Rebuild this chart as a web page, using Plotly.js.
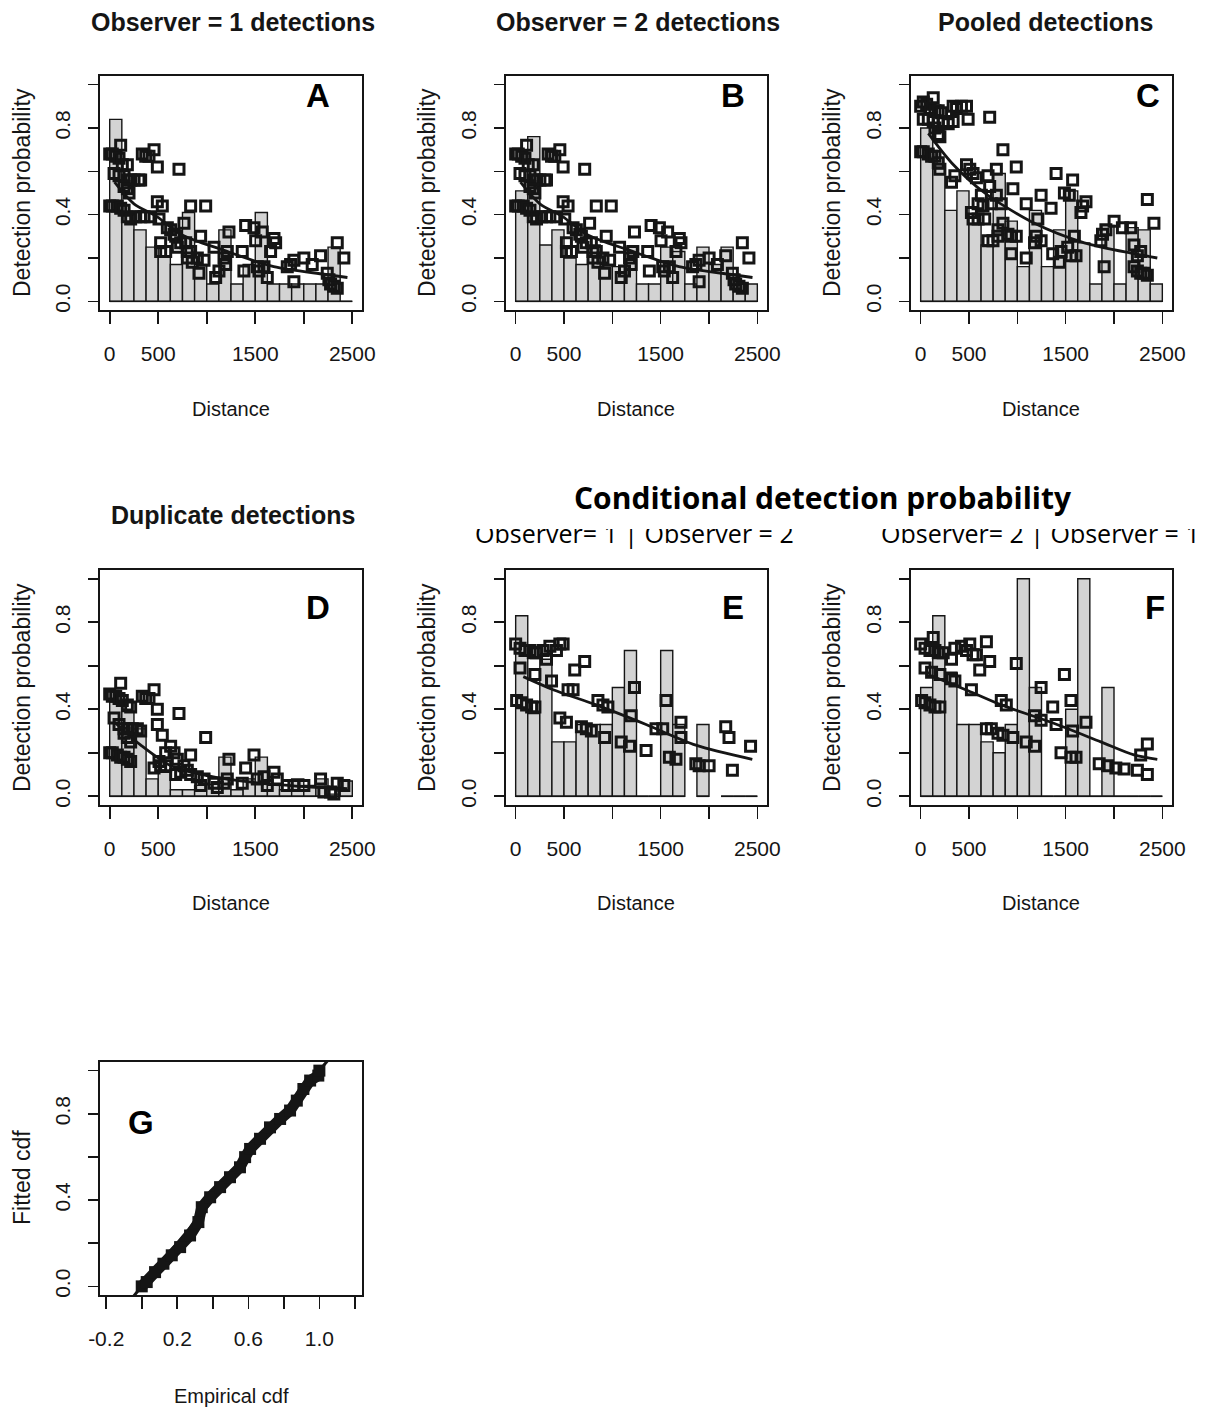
<!DOCTYPE html>
<html>
<head>
<meta charset="utf-8">
<script src="https://cdn.plot.ly/plotly-3.0.1.min.js"></script>
<style>
html,body{margin:0;padding:0;background:#fff;}
#chart{width:1207px;height:1410px;}
</style>
</head>
<body>
<div id="chart"></div>
<script>
// ---------------- DATA ----------------
const binEdges = [0,125,250,375,500,625,750,875,1000,1125,1250,1375,1500,1625,1750,1875,2000,2125,2250,2375,2500];

// histogram heights (null = empty bin drawn without baseline)
const histA = [0.84,0.40,0.33,0.25,0.21,0.17,0.41,0.17,0.08,0.33,0.08,0.17,0.41,0.08,0.08,0.08,0.08,0.08,0.25,0];
const histB = [0.51,0.76,0.26,0.33,0.20,0.17,0.26,0.17,0.16,0.25,0.08,0.08,0.25,0.23,0.08,0.25,0.17,0.25,0.08,0.08];
const histC = [0.80,0.61,0.42,0.51,0.36,0.26,0.59,0.37,0.16,0.42,0.16,0.33,0.51,0.27,0.08,0.35,0.08,0.34,0.33,0.08];
const histD = [0.44,0.39,0.31,0.08,0.11,0.03,0.03,0.05,0.055,0.18,0.03,0.08,0.18,0.05,0.03,0.08,0.05,0.08,0.01,0.07];
const histE = [0.83,0.38,0.63,0.25,0.25,0.33,0.33,0.33,0.50,0.67,0,0,0.67,0.33,null,0.33,null,0,0,0];
const histF = [0.50,0.83,0.57,0.33,0.33,0.25,0.20,0.33,1.00,0.50,0,0,0.40,1.00,0,0.50,0,0,0,0];

// observation points: distance and estimated detection probability
const distA = [0,27,62,113,96,130,182,45,96,148,182,216,251,302,319,148,182,199,
  0,27,79,113,148,182,216,268,319,354,422,336,371,405,457,491,714,491,542,525,525,577,
  508,594,628,663,765,680,697,731,783,800,800,834,834,989,851,903,937,972,920,1075,
  1092,1126,1178,1195,1229,1212,1366,1383,1401,1487,1504,1572,1521,1538,1590,1624,1658,1710,
  1693,1830,1864,1898,1898,2001,2087,2173,2242,2259,2276,2310,2345,2345,2413];
const probA = [0.68,0.68,0.67,0.72,0.66,0.63,0.63,0.59,0.58,0.58,0.56,0.56,0.56,0.56,0.56,0.53,0.52,0.50,
  0.44,0.44,0.44,0.43,0.42,0.39,0.38,0.39,0.39,0.39,0.39,0.68,0.67,0.67,0.70,0.62,0.61,0.46,0.44,0.27,0.23,0.23,
  0.38,0.34,0.33,0.31,0.36,0.30,0.25,0.27,0.27,0.23,0.20,0.23,0.44,0.44,0.18,0.20,0.30,0.19,0.13,0.25,
  0.11,0.14,0.20,0.17,0.32,0.23,0.23,0.14,0.35,0.34,0.28,0.32,0.16,0.14,0.16,0.11,0.23,0.27,
  0.29,0.16,0.17,0.19,0.09,0.20,0.17,0.21,0.13,0.10,0.08,0.07,0.06,0.27,0.20];
const distB = distA.slice();
const probB = [0.68,0.68,0.67,0.72,0.66,0.63,0.63,0.59,0.58,0.58,0.56,0.56,0.56,0.56,0.56,0.53,0.52,0.50,
  0.44,0.44,0.44,0.43,0.42,0.39,0.38,0.39,0.39,0.39,0.39,0.68,0.67,0.67,0.70,0.62,0.61,0.46,0.44,0.27,0.23,0.23,
  0.38,0.34,0.33,0.31,0.36,0.30,0.25,0.27,0.27,0.23,0.20,0.23,0.44,0.44,0.18,0.20,0.30,0.19,0.13,0.25,
  0.11,0.14,0.20,0.17,0.32,0.23,0.23,0.14,0.35,0.34,0.28,0.32,0.16,0.14,0.16,0.11,0.23,0.27,
  0.29,0.16,0.17,0.19,0.09,0.20,0.17,0.21,0.13,0.10,0.08,0.07,0.06,0.27,0.20];
const distC = [0,27,62,130,96,148,182,216,27,79,130,182,233,285,336,148,182,199,
  0,27,79,113,148,182,199,336,371,422,474,491,714,851,474,508,542,577,354,319,
  628,594,645,697,714,783,731,783,663,525,542,594,834,851,989,954,800,903,937,989,
  697,748,800,937,1092,1092,1178,1212,1195,1246,1246,1349,1401,1572,1487,1538,
  1366,1435,1452,1521,1590,1555,1607,1658,1675,1710,1864,1881,1916,1898,2001,2087,2173,
  2345,2413,2207,2207,2242,2276,2310,2345,2242,2276];
const probC = [0.90,0.92,0.91,0.94,0.89,0.88,0.88,0.87,0.84,0.84,0.83,0.83,0.83,0.82,0.83,0.80,0.77,0.76,
  0.69,0.69,0.68,0.67,0.67,0.64,0.61,0.90,0.89,0.90,0.90,0.84,0.85,0.70,0.63,0.61,0.59,0.57,0.58,0.55,
  0.49,0.45,0.44,0.58,0.53,0.61,0.45,0.49,0.38,0.41,0.38,0.38,0.45,0.36,0.62,0.52,0.33,0.31,0.30,0.30,
  0.28,0.28,0.30,0.22,0.45,0.20,0.27,0.38,0.30,0.49,0.28,0.43,0.59,0.56,0.50,0.49,
  0.22,0.18,0.23,0.25,0.30,0.21,0.21,0.41,0.44,0.46,0.28,0.31,0.33,0.16,0.37,0.34,0.34,
  0.47,0.36,0.26,0.16,0.14,0.13,0.13,0.12,0.21,0.23];
const distD = [0,27,62,113,96,130,182,216,45,96,148,182,233,285,319,148,182,216,
  0,27,79,113,148,182,216,336,371,405,457,491,714,491,542,525,508,457,577,577,
  628,663,697,765,834,989,680,731,800,834,903,937,972,1075,1109,1178,1229,1212,
  1366,1401,1487,1521,1590,1624,1693,1727,1830,1898,2001,2173,2207,2276,2345,2413,2310];
const probD = [0.47,0.46,0.46,0.52,0.45,0.44,0.42,0.41,0.36,0.33,0.31,0.31,0.31,0.31,0.30,0.29,0.27,0.25,
  0.20,0.20,0.19,0.18,0.18,0.17,0.16,0.46,0.45,0.45,0.49,0.40,0.38,0.33,0.28,0.14,0.16,0.13,0.14,0.20,
  0.23,0.20,0.17,0.14,0.19,0.27,0.10,0.11,0.12,0.10,0.09,0.05,0.08,0.06,0.04,0.06,0.17,0.08,
  0.06,0.13,0.19,0.08,0.09,0.05,0.11,0.08,0.05,0.05,0.05,0.08,0.02,0.02,0.06,0.05,0.01];
const distE = [0,45,96,148,182,216,285,319,354,422,457,491,45,199,371,542,594,611,714,851,903,954,
  10,62,113,165,199,457,525,680,731,783,920,1092,1178,1195,1229,1349,1452,1521,1555,1590,1658,1710,1710,
  1864,1898,2001,2173,2207,2242,2430];
const probE = [0.70,0.68,0.67,0.67,0.66,0.66,0.67,0.63,0.69,0.67,0.70,0.70,0.59,0.56,0.53,0.49,0.49,0.58,0.62,0.44,0.42,0.41,
  0.44,0.43,0.42,0.41,0.41,0.36,0.34,0.32,0.31,0.30,0.27,0.25,0.23,0.37,0.50,0.21,0.31,0.31,0.44,0.18,0.17,0.34,0.27,
  0.15,0.14,0.14,0.32,0.27,0.12,0.23];
const distF = [0,45,96,130,148,182,233,319,354,422,474,508,542,577,611,680,714,989,
  45,113,199,319,354,525,834,886,10,45,96,148,199,680,731,800,851,954,
  1092,1178,1178,1246,1246,1366,1401,1487,1555,1572,1452,1555,1607,1710,
  1847,1933,2019,2104,2242,2345,2345,2276];
const probF = [0.70,0.68,0.67,0.73,0.67,0.66,0.66,0.63,0.68,0.69,0.67,0.70,0.65,0.65,0.58,0.71,0.62,0.61,
  0.59,0.57,0.56,0.54,0.53,0.49,0.44,0.42,0.44,0.43,0.42,0.41,0.41,0.31,0.31,0.29,0.28,0.27,
  0.25,0.23,0.37,0.35,0.50,0.41,0.33,0.56,0.44,0.30,0.20,0.18,0.18,0.34,
  0.15,0.14,0.13,0.125,0.12,0.10,0.24,0.19];

// fitted average detection function
const fitDistA = [50,250,490,730,1180,1690,2210,2450];
const fitProbA = [0.55,0.45,0.39,0.31,0.235,0.16,0.125,0.11];
const fitDistB = [50,250,490,730,1180,1690,2210,2450];
const fitProbB = [0.55,0.45,0.39,0.31,0.235,0.16,0.125,0.11];
const fitDistC = [79,319,663,1178,1693,2207,2448];
const fitProbC = [0.775,0.64,0.50,0.36,0.27,0.22,0.20];
const fitDistD = [50,150,320,630,1000,1500,2000,2450];
const fitProbD = [0.34,0.30,0.235,0.14,0.095,0.063,0.045,0.035];
const fitDistE = [79,388,834,1349,1864,2448];
const fitProbE = [0.55,0.49,0.42,0.33,0.235,0.17];
const fitDistF = [79,491,834,1349,1864,2207,2448];
const fitProbF = [0.56,0.485,0.42,0.34,0.25,0.19,0.17];

// Q-Q (cdf) plot
const empiricalCdf = [0.0,0.028,0.075,0.122,0.169,0.216,0.272,0.319,0.338,0.385,0.441,0.497,0.553,0.582,0.61,0.666,0.722,0.779,0.835,0.873,0.91,0.948,0.994,1.0];
const fittedCdf    = [0.0,0.02,0.066,0.105,0.144,0.182,0.236,0.298,0.367,0.413,0.46,0.506,0.552,0.599,0.637,0.684,0.737,0.776,0.815,0.861,0.915,0.954,0.977,1.0];
const refLine = [-0.3,1.3];

// ticks and labels
const distTicks = [0,500,1000,1500,2000,2500];
const distTickText = ['0','500','','1500','','2500'];
const probTicks = [0,0.2,0.4,0.6,0.8,1.0];
const probTickText = ['0.0','','0.4','','0.8',''];
const cdfTicks = [-0.2,0,0.2,0.4,0.6,0.8,1.0,1.2];
const cdfTickText = ['-0.2','','0.2','','0.6','','1.0',''];
const panelTitles = ['Observer = 1 detections','Observer = 2 detections','Pooled detections','Duplicate detections'];
const condTitle = 'Conditional detection probability';
const condSubtitles = ['Observer= 1 | Observer = 2','Observer= 2 | Observer = 1'];
const panelLetters = ['A','B','C','D','E','F','G'];
const xTitle = 'Distance', yTitle = 'Detection probability';
const cdfXTitle = 'Empirical cdf', cdfYTitle = 'Fitted cdf';

// ---------------- LAYOUT ----------------
const W = 1207, H = 1410;
const px = v => v / W, py = v => 1 - v / H;
const INK = '#151515';
const sans = '"Liberation Sans",Arial,Helvetica,sans-serif';
const openSans = '"Open Sans","Noto Sans",sans-serif';
const tickFont = {family: sans, size: 21, color: INK};

// pixel boxes [left,right,top,bottom]
const boxes = [
  [100,362,76,310],[506,767,76,310],[911,1172,76,310],
  [100,362,570,805],[506,767,570,805],[911,1172,570,805],
  [100,362,1062,1295]
];
const hists = [histA,histB,histC,histD,histE,histF];
const dists = [distA,distB,distC,distD,distE,distF];
const probs = [probA,probB,probC,probD,probE,probF];
const fitX = [fitDistA,fitDistB,fitDistC,fitDistD,fitDistE,fitDistF];
const fitY = [fitProbA,fitProbB,fitProbC,fitProbD,fitProbE,fitProbF];

const layout = {
  width: W, height: H,
  margin: {l:0, r:0, t:0, b:0},
  paper_bgcolor: '#fff', plot_bgcolor: '#fff',
  showlegend: false,
  annotations: []
};
const traces = [];

function axisBase(extra) {
  return Object.assign({
    ticks: 'outside', tickwidth: 1.6, tickcolor: INK,
    showline: true, mirror: true, linecolor: INK, linewidth: 1.7,
    showgrid: false, zeroline: false, tickfont: tickFont, fixedrange: true
  }, extra);
}

const mids = binEdges.slice(0,-1).map((e,i) => (e + binEdges[i+1]) / 2);
const widths = binEdges.slice(0,-1).map((e,i) => binEdges[i+1] - e);

boxes.forEach((b, i) => {
  const n = i + 1;
  const xs = n === 1 ? '' : String(n);
  const isCdf = i === 6;
  layout['xaxis' + xs] = axisBase({
    domain: [px(b[0]), px(b[1])], anchor: 'y' + xs,
    range: isCdf ? [-0.235, 1.24] : [-100, 2600],
    tickmode: 'array',
    tickvals: isCdf ? cdfTicks : distTicks,
    ticktext: isCdf ? cdfTickText : distTickText,
    ticklen: 12, ticklabelstandoff: 12
  });
  layout['yaxis' + xs] = axisBase({
    domain: [py(b[3]), py(b[2])], anchor: 'x' + xs,
    range: [-0.04, 1.04],
    tickmode: 'array', tickvals: probTicks, ticktext: probTickText,
    ticklen: 10, tickangle: -90, ticklabelstandoff: 10
  });
  const xa = 'x' + xs, ya = 'y' + xs;
  if (!isCdf) {
    const h = hists[i];
    traces.push({type:'bar', x: mids, y: h, width: widths,
      marker:{color:'#d3d3d3', line:{color:INK, width:1.4}}, xaxis:xa, yaxis:ya, hoverinfo:'skip'});
    const bx = [], by = [];
    h.forEach((v, k) => { if (v !== null) { bx.push(binEdges[k], binEdges[k+1], null); by.push(0, 0, null); } });
    traces.push({type:'scatter', mode:'lines', x: bx, y: by, line:{color:INK, width:1.6},
      xaxis:xa, yaxis:ya, hoverinfo:'skip'});
    traces.push({type:'scatter', mode:'lines', x: fitX[i], y: fitY[i],
      line:{color:INK, width:2.8, shape:'spline', smoothing:0.8}, xaxis:xa, yaxis:ya, hoverinfo:'skip'});
    traces.push({type:'scatter', mode:'markers', x: dists[i], y: probs[i],
      marker:{symbol:'square-open', size:10, color:INK, line:{color:INK, width:3}},
      xaxis:xa, yaxis:ya, hoverinfo:'skip'});
  } else {
    traces.push({type:'scatter', mode:'lines', x: refLine, y: refLine,
      line:{color:INK, width:3}, xaxis:xa, yaxis:ya, hoverinfo:'skip'});
    traces.push({type:'scatter', mode:'lines+markers', x: empiricalCdf, y: fittedCdf,
      line:{color:INK, width:11}, marker:{symbol:'square', size:12, color:INK},
      xaxis:xa, yaxis:ya, hoverinfo:'skip'});
  }
});

function ann(text, x, y, font, extra) {
  layout.annotations.push(Object.assign({
    text: text, x: px(x), y: py(y), xref:'paper', yref:'paper',
    showarrow:false, xanchor:'center', yanchor:'middle', font: font
  }, extra || {}));
}
const titleFont = {family: sans, size: 25, color: INK, weight: 'bold'};
const labFont = {family: sans, size: 20, color: INK};
const vLabFont = {family: sans, size: 23, color: INK};
const letterFont = {family: sans, size: 33, color: '#000', weight: 'bold'};

ann(panelTitles[0], 233, 22, titleFont);
ann(panelTitles[1], 638, 22, titleFont);
ann(panelTitles[2], 1045, 22, titleFont);
ann(panelTitles[3], 233, 515, titleFont);
ann(condTitle, 823, 498, {family: openSans, size: 30, color:'#000', weight:'bold'});
ann(condSubtitles[0], 634, 533.3, {family: openSans, size: 25, color:'#000'});
ann(condSubtitles[1], 1040, 533.3, {family: openSans, size: 25, color:'#000'});
// white strip reproducing the cropped top of the two subtitles
ann('&#160;', 838, 524.5, {family: openSans, size: 6, color:'#fff'},
  {bgcolor:'#ffffff', width: 760, height: 10, borderpad: 0, borderwidth: 0, valign:'middle'});

const letterPos = [[318,95],[733,95],[1148,95],[318,607],[733,607],[1155,607],[141,1122]];
letterPos.forEach((p, i) => ann(panelLetters[i], p[0], p[1], letterFont));

[[231,409],[636,409],[1041,409],[231,903],[636,903],[1041,903]].forEach(p => ann(xTitle, p[0], p[1], labFont));
[[22,193],[427,193],[832,193],[22,688],[427,688],[832,688]].forEach(p => ann(yTitle, p[0], p[1], vLabFont, {textangle:-90}));
ann(cdfXTitle, 231, 1396, labFont);
ann(cdfYTitle, 22, 1178, vLabFont, {textangle:-90});

Plotly.newPlot('chart', traces, layout, {staticPlot:true, displayModeBar:false});
</script>
</body>
</html>
